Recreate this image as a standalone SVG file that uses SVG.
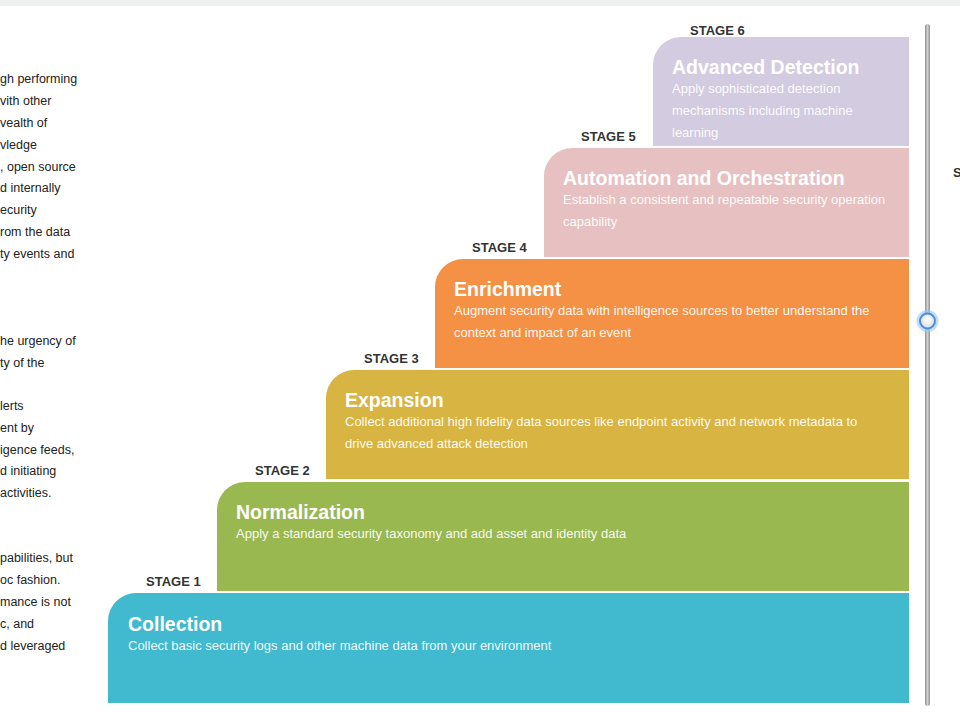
<svg xmlns="http://www.w3.org/2000/svg" width="960" height="716" viewBox="0 0 960 716">
<style>
.side{font-family:"Liberation Sans",Arial,sans-serif;font-size:12.5px;fill:#222}
.lbl{font-family:"Liberation Sans",Arial,sans-serif;font-size:13px;font-weight:bold;fill:#333}
.ttl{font-family:"Liberation Sans",Arial,sans-serif;font-size:19.5px;font-weight:bold;fill:#fff}
.dsc{font-family:"Liberation Sans",Arial,sans-serif;font-size:13px;fill:#fff;fill-opacity:0.94}
</style>
<defs>
<linearGradient id="track" x1="0" y1="0" x2="1" y2="0">
<stop offset="0" stop-color="#8f8f8f"/>
<stop offset="0.5" stop-color="#d0d0d0"/>
<stop offset="1" stop-color="#8f8f8f"/>
</linearGradient>
<radialGradient id="thumb" cx="0.5" cy="0.4" r="0.6">
<stop offset="0" stop-color="#ffffff"/>
<stop offset="1" stop-color="#dcdcdc"/>
</radialGradient>
</defs>
<rect x="0" y="0" width="960" height="716" fill="#ffffff"/>
<rect x="0" y="0" width="960" height="6" fill="#eef1f0"/>
<g id="sidetext">
<text class="side" x="0" y="83">gh performing</text>
<text class="side" x="0" y="105">vith other</text>
<text class="side" x="0" y="127">vealth of</text>
<text class="side" x="0" y="149">vledge</text>
<text class="side" x="0" y="171">, open source</text>
<text class="side" x="0" y="192">d internally</text>
<text class="side" x="0" y="214">ecurity</text>
<text class="side" x="0" y="236">rom the data</text>
<text class="side" x="0" y="258">ty events and</text>
<text class="side" x="0" y="345">he urgency of</text>
<text class="side" x="0" y="367">ty of the</text>
<text class="side" x="0" y="410">lerts</text>
<text class="side" x="0" y="432">ent by</text>
<text class="side" x="0" y="454">igence feeds,</text>
<text class="side" x="0" y="475">d initiating</text>
<text class="side" x="0" y="497">activities.</text>
<text class="side" x="0" y="562">pabilities, but</text>
<text class="side" x="0" y="584">oc fashion.</text>
<text class="side" x="0" y="606">mance is not</text>
<text class="side" x="0" y="628">c, and</text>
<text class="side" x="0" y="650">d leveraged</text>
<text class="lbl" x="953" y="177">S</text>
</g>
<g id="stage6">
<text class="lbl" x="690" y="35">STAGE 6</text>
<path d="M653,65 A28,28 0 0 1 681,37 H909 V146 H653 Z" fill="#d3cbe0"/>
<text class="ttl" x="672" y="74">Advanced Detection</text>
<text class="dsc" x="672" y="93">Apply sophisticated detection</text>
<text class="dsc" x="672" y="115">mechanisms including machine</text>
<text class="dsc" x="672" y="137">learning</text>
</g>
<g id="stage5">
<text class="lbl" x="581" y="141">STAGE 5</text>
<path d="M544,176 A28,28 0 0 1 572,148 H909 V257 H544 Z" fill="#e7c1c1"/>
<text class="ttl" x="563" y="185">Automation and Orchestration</text>
<text class="dsc" x="563" y="204">Establish a consistent and repeatable security operation</text>
<text class="dsc" x="563" y="226">capability</text>
</g>
<g id="stage4">
<text class="lbl" x="472" y="252">STAGE 4</text>
<path d="M435,287 A28,28 0 0 1 463,259 H909 V368 H435 Z" fill="#f59145"/>
<text class="ttl" x="454" y="296">Enrichment</text>
<text class="dsc" x="454" y="315">Augment security data with intelligence sources to better understand the</text>
<text class="dsc" x="454" y="337">context and impact of an event</text>
</g>
<g id="stage3">
<text class="lbl" x="364" y="363">STAGE 3</text>
<path d="M326,398 A28,28 0 0 1 354,370 H909 V479 H326 Z" fill="#d8b443"/>
<text class="ttl" x="345" y="407">Expansion</text>
<text class="dsc" x="345" y="426">Collect additional high fidelity data sources like endpoint activity and network metadata to</text>
<text class="dsc" x="345" y="448">drive advanced attack detection</text>
</g>
<g id="stage2">
<text class="lbl" x="255" y="475">STAGE 2</text>
<path d="M217,510 A28,28 0 0 1 245,482 H909 V591 H217 Z" fill="#9ab850"/>
<text class="ttl" x="236" y="519">Normalization</text>
<text class="dsc" x="236" y="538">Apply a standard security taxonomy and add asset and identity data</text>
</g>
<g id="stage1">
<text class="lbl" x="146" y="586">STAGE 1</text>
<path d="M108,621 A28,28 0 0 1 136,593 H909 V703 H108 Z" fill="#41b9cf"/>
<text class="ttl" x="128" y="631">Collection</text>
<text class="dsc" x="128" y="650">Collect basic security logs and other machine data from your environment</text>
</g>
<g id="slider">
<rect x="925" y="24" width="5" height="682" rx="2.5" fill="url(#track)"/>
<circle cx="927.5" cy="321" r="9.5" fill="none" stroke="#9cc6f2" stroke-width="3" opacity="0.6"/>
<circle cx="927.5" cy="321" r="7.5" fill="url(#thumb)" stroke="#4a90e2" stroke-width="2"/>
</g>
<g id="connectors"></g>
</svg>
